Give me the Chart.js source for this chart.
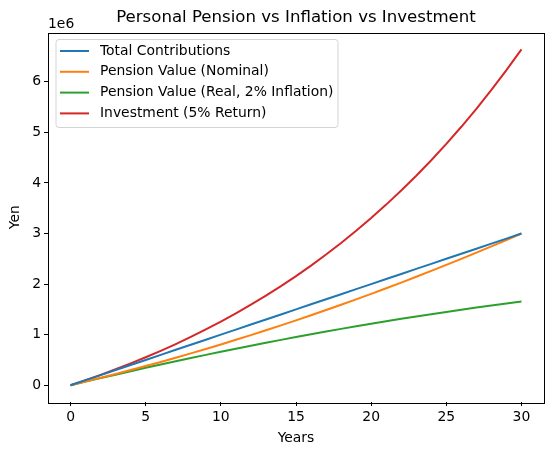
<!DOCTYPE html>
<html>
<head>
<meta charset="utf-8">
<script src="https://cdn.jsdelivr.net/npm/chart.js@4.4.1/dist/chart.umd.min.js"></script>
<style>
  html, body { margin:0; padding:0; background:#fff; }
  #wrap { width:554px; height:455px; }
</style>
</head>
<body>
<div id="wrap"><canvas id="pensionChart" width="554" height="455"></canvas></div>
<script>
// years 0..30
const years = [0,1,2,3,4,5,6,7,8,9,10,11,12,13,14,15,16,17,18,19,20,21,22,23,24,25,26,27,28,29,30];

const totalContributions = [0,100000,200000,300000,400000,500000,600000,700000,800000,900000,1000000,
  1100000,1200000,1300000,1400000,1500000,1600000,1700000,1800000,1900000,2000000,
  2100000,2200000,2300000,2400000,2500000,2600000,2700000,2800000,2900000,3000000];

const pensionNominal = [0,71967,145867,221700,299467,379167,460800,544367,629867,717300,806667,
  898333,991200,1086367,1183467,1282500,1383467,1486367,1591200,1697967,1806667,
  1917300,2029867,2144367,2260800,2379167,2499467,2621700,2745867,2871967,3000000];

const pensionReal = [0,70556,140203,208913,276662,343424,409178,473902,537583,600206,661750,
  722499,781556,839795,896922,952915,1007774,1061509,1114091,1165543,1215836,
  1264985,1312997,1359862,1405585,1450175,1493627,1535952,1577160,1617246,1656215];

const investment = [0,100000,205000,315250,431013,552563,680191,814201,954911,1102656,1257789,
  1420679,1591713,1771298,1959863,2157856,2365749,2584037,2813238,3053900,3306595,
  3571925,3850521,4143048,4450200,4772710,5111345,5466913,5840258,6232271,6643885];

const xTicks = [0,5,10,15,20,25,30];
const yTicks = [0,1000000,2000000,3000000,4000000,5000000,6000000];

const TITLE = 'Personal Pension vs Inflation vs Investment';
const FONT = "'DejaVu Sans', sans-serif";
const FS = 13.9;

const toPts = arr => arr.map((v, i) => ({ x: years[i], y: v }));

// axes frame, title over the axes, "1e6" offset text and matplotlib-style legend
const mplDecor = {
    id: 'mplDecor',
    afterDraw(chart) {
        const { ctx, chartArea: a } = chart;
        ctx.save();
        ctx.strokeStyle = '#000';
        ctx.lineWidth = 1;
        ctx.strokeRect(Math.round(a.left) + 0.5, Math.round(a.top) + 0.5,
                       Math.round(a.right - a.left), Math.round(a.bottom - a.top));

        ctx.fillStyle = '#000';
        ctx.font = `16.6px ${FONT}`;
        ctx.textAlign = 'center';
        ctx.textBaseline = 'middle';
        ctx.fillText(TITLE, (a.left + a.right) / 2, 18);

        ctx.font = `${FS}px ${FONT}`;
        ctx.textAlign = 'left';
        ctx.textBaseline = 'alphabetic';
        ctx.fillText('1e6', a.left, a.top - 5);

        // legend
        const lx = 56, ly = 39.5, lw = 282, lh = 88, r = 3;
        ctx.beginPath();
        ctx.moveTo(lx + r, ly);
        ctx.arcTo(lx + lw, ly, lx + lw, ly + lh, r);
        ctx.arcTo(lx + lw, ly + lh, lx, ly + lh, r);
        ctx.arcTo(lx, ly + lh, lx, ly, r);
        ctx.arcTo(lx, ly, lx + lw, ly, r);
        ctx.closePath();
        ctx.fillStyle = 'rgba(255,255,255,0.8)';
        ctx.fill();
        ctx.strokeStyle = '#d4d4d4';
        ctx.stroke();

        chart.data.datasets.forEach((ds, i) => {
            const y = 51 + i * 20.8;
            ctx.beginPath();
            ctx.moveTo(60, y);
            ctx.lineTo(89, y);
            ctx.strokeStyle = ds.borderColor;
            ctx.lineWidth = 2;
            ctx.stroke();
            ctx.fillStyle = '#000';
            ctx.textBaseline = 'middle';
            ctx.fillText(ds.label, 100, y);
        });
        ctx.restore();
    }
};

new Chart(document.getElementById('pensionChart'), {
    type: 'line',
    data: {
        datasets: [
            { label: 'Total Contributions',                data: toPts(totalContributions), borderColor: '#1f77b4' },
            { label: 'Pension Value (Nominal)',            data: toPts(pensionNominal),     borderColor: '#ff7f0e' },
            { label: 'Pension Value (Real, 2% Inflation)', data: toPts(pensionReal),        borderColor: '#2ca02c' },
            { label: 'Investment (5% Return)',             data: toPts(investment),         borderColor: '#d62728' }
        ].map(d => ({ ...d, borderWidth: 2, pointRadius: 0, tension: 0, fill: false }))
    },
    options: {
        responsive: false,
        animation: false,
        layout: { padding: { left: 0, right: 10, top: 32.5, bottom: 0 } },
        plugins: {
            legend: { display: false },
            tooltip: { enabled: false },
            title: { display: false }
        },
        scales: {
            x: {
                type: 'linear',
                min: -1.5, max: 31.5,
                afterBuildTicks: s => { s.ticks = xTicks.map(v => ({ value: v })); },
                afterFit: s => { s.height = 53; },
                grid: { drawOnChartArea: false, drawTicks: true, tickLength: 4, tickColor: '#000' },
                border: { display: false },
                ticks: { color: '#000', font: { family: FONT, size: FS }, padding: 3, maxRotation: 0 },
                title: { display: true, text: 'Years', color: '#000', font: { family: FONT, size: FS }, padding: { top: 2, bottom: 8 } }
            },
            y: {
                type: 'linear',
                min: -332000, max: 6976000,
                afterBuildTicks: s => { s.ticks = yTicks.map(v => ({ value: v })); },
                afterFit: s => { s.width = 48; },
                grid: { drawOnChartArea: false, drawTicks: true, tickLength: 4, tickColor: '#000' },
                border: { display: false },
                ticks: { color: '#000', font: { family: FONT, size: FS }, padding: 3, callback: v => String(v / 1000000) },
                title: { display: true, text: 'Yen', color: '#000', font: { family: FONT, size: FS }, padding: { top: 7, bottom: 2 } }
            }
        }
    },
    plugins: [mplDecor]
});
</script>
</body>
</html>
